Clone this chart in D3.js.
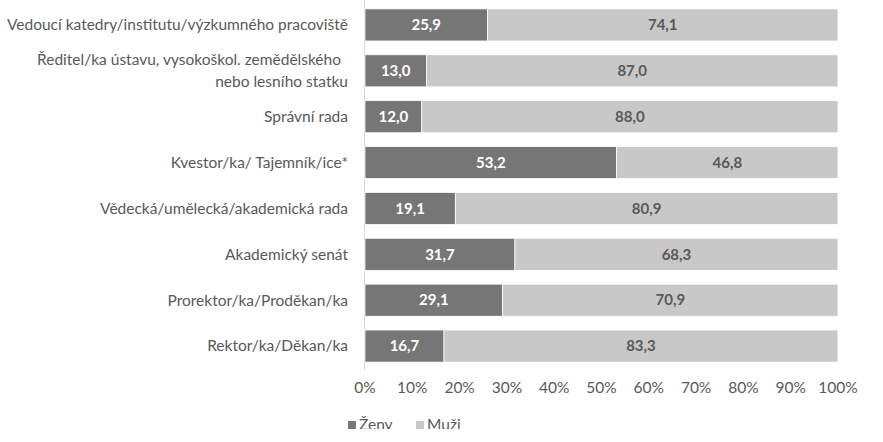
<!DOCTYPE html>
<html>
<head>
<meta charset="utf-8">
<script src="https://cdn.jsdelivr.net/npm/d3@7"></script>
<style>
  body { margin: 0; background: #fff; }
  svg { font-family: Lato, "Open Sans", sans-serif; }
</style>
</head>
<body>
<div id="chart"></div>
<script>
const categories = [
  ["Vedoucí katedry/institutu/výzkumného pracoviště"],
  ["Ředitel/ka ústavu, vysokoškol. zemědělského", "nebo lesního statku"],
  ["Správní rada"],
  ["Kvestor/ka/ Tajemník/ice*"],
  ["Vědecká/umělecká/akademická rada"],
  ["Akademický senát"],
  ["Prorektor/ka/Proděkan/ka"],
  ["Rektor/ka/Děkan/ka"]
];
const zeny = [25.9, 13.0, 12.0, 53.2, 19.1, 31.7, 29.1, 16.7];
const muzi = [74.1, 87.0, 88.0, 46.8, 80.9, 68.3, 70.9, 83.3];
const ticks = [0, 10, 20, 30, 40, 50, 60, 70, 80, 90, 100];
const seriesNames = ["Ženy", "Muži"];
const colors = ["#767676", "#c8c8c8"];

const W = 883, H = 442;
const svg = d3.select("#chart").append("svg").attr("width", W).attr("height", H);

const x = d3.scaleLinear().domain([0, 100]).range([365, 838]);
const y = d3.scaleBand().domain(d3.range(categories.length)).range([2, 369]).paddingInner(0.3).paddingOuter(0.15);

const rows = categories.map((c, i) => ({ i, lines: c, z: zeny[i], m: muzi[i] }));

// axis line
svg.append("line").attr("x1", 364.5).attr("x2", 364.5).attr("y1", 0).attr("y2", 370)
  .attr("stroke", "#d9d9d9").attr("stroke-width", 1);

const fmt = v => v.toFixed(1).replace(".", ",");

const g = svg.selectAll("g.row").data(rows).join("g").attr("class", "row");

g.append("rect")
  .attr("x", d => x(0)).attr("y", d => y(d.i))
  .attr("width", d => x(d.z) - x(0)).attr("height", y.bandwidth())
  .attr("fill", colors[0]).attr("stroke", "#fff").attr("stroke-width", 0.8);
g.append("rect")
  .attr("x", d => x(d.z)).attr("y", d => y(d.i))
  .attr("width", d => x(d.z + d.m) - x(d.z)).attr("height", y.bandwidth())
  .attr("fill", colors[1]).attr("stroke", "#fff").attr("stroke-width", 0.8);

g.append("text")
  .attr("x", d => (x(0) + x(d.z)) / 2).attr("y", d => y(d.i) + y.bandwidth() / 2)
  .attr("dy", "0.35em").attr("text-anchor", "middle")
  .attr("fill", "#fff").attr("font-weight", "bold").attr("font-size", 15)
  .text(d => fmt(d.z));
g.append("text")
  .attr("x", d => (x(d.z) + x(d.z + d.m)) / 2).attr("y", d => y(d.i) + y.bandwidth() / 2)
  .attr("dy", "0.35em").attr("text-anchor", "middle")
  .attr("fill", "#595959").attr("font-weight", "bold").attr("font-size", 15)
  .text(d => fmt(d.m));

// category labels
g.append("text")
  .attr("text-anchor", "end").attr("fill", "#595959").attr("font-size", 15.5)
  .each(function (d) {
    const t = d3.select(this);
    const cy = y(d.i) + y.bandwidth() / 2;
    const n = d.lines.length;
    d.lines.forEach((l, k) => {
      t.append("tspan").attr("x", k < n - 1 ? 341 : 348)
        .attr("y", cy + (k - (n - 1) / 2) * 22)
        .attr("dy", "0.35em").text(l);
    });
  });

// x axis tick labels
svg.append("g").selectAll("text").data(ticks).join("text")
  .attr("x", d => x(d)).attr("y", 388).attr("dy", "0.35em")
  .attr("text-anchor", "middle").attr("fill", "#595959").attr("font-size", 15.5)
  .text(d => d + "%");

// legend (cut at the bottom as in the source image)
svg.append("clipPath").attr("id", "legclip")
  .append("rect").attr("x", 0).attr("y", 0).attr("width", W).attr("height", 429);
const lg = svg.append("g").attr("clip-path", "url(#legclip)")
  .append("g").attr("transform", "translate(348,425)");
const lx = [0, 68];
seriesNames.forEach((s, i) => {
  lg.append("rect").attr("x", lx[i]).attr("y", -4).attr("width", 8).attr("height", 8).attr("fill", colors[i]);
  lg.append("text").attr("x", lx[i] + 11).attr("y", 0).attr("dy", "0.35em")
    .attr("fill", "#595959").attr("font-size", 15.5).text(s);
});
</script>
</body>
</html>
